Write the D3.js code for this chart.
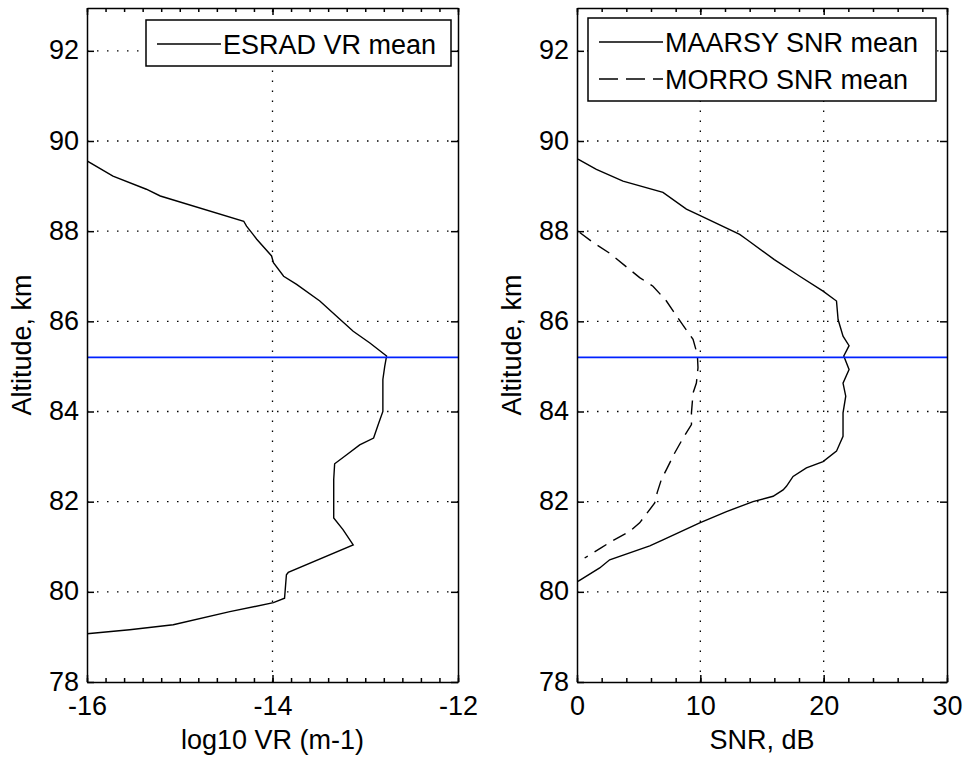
<!DOCTYPE html>
<html>
<head>
<meta charset="utf-8">
<script src="https://cdn.jsdelivr.net/npm/d3@7"></script>
<style>
  body { margin: 0; background: #fff; }
  svg { display: block; font-family: "Liberation Sans", Arial, sans-serif; }
  .axis path, .axis line { stroke: #000; stroke-width: 1.5; }
  .axis text { font-size: 27px; fill: #000; }
  .grid { stroke: #000; stroke-width: 1.3; stroke-dasharray: 1.5,8.5; }
  .label { font-size: 27px; fill: #000; }
  .curve { fill: none; stroke: #000; stroke-width: 1.4; }
</style>
</head>
<body>
<svg id="chart" width="965" height="762"></svg>
<script>
// ESRAD volume reflectivity (log10, m-1) vs altitude
var esradAlt = [89.56, 89.22, 88.93, 88.78, 88.22, 88.11, 87.93, 87.82, 87.45, 87.30,
                87.00, 86.82, 86.45, 86.04, 85.78, 85.52, 85.23, 85.00, 84.71, 84.00,
                83.71, 83.41, 83.26, 83.04, 82.84, 82.49, 82.04, 81.64, 81.38, 81.04,
                80.43, 80.38, 79.86, 79.76, 79.56, 79.27, 79.16, 79.07];
var esradVR  = [-16.00, -15.72, -15.36, -15.21, -14.31, -14.28, -14.21, -14.17, -14.01, -13.99,
                -13.88, -13.74, -13.49, -13.27, -13.13, -12.95, -12.77, -12.79, -12.81, -12.81,
                -12.86, -12.91, -13.06, -13.20, -13.33, -13.34, -13.34, -13.34, -13.24, -13.13,
                -13.83, -13.85, -13.87, -13.99, -14.46, -15.07, -15.54, -16.00];

// MAARSY SNR (dB) vs altitude
var maarsyAlt = [89.60, 89.37, 89.11, 88.86, 88.49, 88.35, 87.93, 87.82, 87.37, 87.00,
                 86.67, 86.45, 86.04, 85.67, 85.46, 85.23, 84.93, 84.63, 84.34, 83.97,
                 83.45, 83.12, 82.89, 82.75, 82.56, 82.34, 82.26, 82.12, 82.00, 81.78,
                 81.53, 81.15, 81.02, 80.71, 80.53, 80.23];
var maarsySNR = [0.08, 1.57, 3.73, 6.97, 8.87, 9.95, 13.19, 13.74, 16.00, 18.06,
                 19.95, 21.04, 21.17, 21.57, 22.06, 21.63, 22.06, 21.57, 21.79, 21.57,
                 21.57, 21.04, 19.95, 18.60, 17.52, 16.98, 16.71, 15.90, 14.27, 12.12,
                 9.95, 6.97, 5.90, 2.65, 1.84, 0.08];

// MORRO SNR (dB) vs altitude
var morroAlt = [87.97, 87.75, 87.51, 86.97, 86.78, 86.45, 86.23, 85.86, 85.60, 85.26,
                84.97, 84.63, 84.41, 83.97, 83.71, 83.41, 83.08, 82.71, 82.49, 82.20,
                81.97, 81.53, 81.34, 81.12, 80.98, 80.75];
var morroSNR = [0.22, 1.30, 2.65, 5.08, 6.16, 7.25, 7.79, 8.73, 9.41, 9.76,
                9.81, 9.68, 9.41, 9.28, 9.28, 8.60, 7.92, 7.25, 6.84, 6.50,
                6.30, 5.08, 4.27, 2.79, 1.98, 0.62];

var markAlt = 85.2;
var altTicks = [78, 80, 82, 84, 86, 88, 90, 92];
var vrTicks = [-16, -14, -12];
var snrTicks = [0, 10, 20, 30];

var svg = d3.select("#chart");
var top_ = 8, bottom_ = 682;

var y = d3.scaleLinear().domain([78, 92.95]).range([bottom_, top_]);

var panels = [
  { id: "vr", left: 87, right: 458, domain: [-16, -12], ticks: vrTicks, minor: 0.2,
    xLabel: "log10 VR (m-1)",
    series: [{ x: esradVR, y: esradAlt, dash: null, name: "ESRAD VR mean" }],
    legend: { x: 146, y: 20, w: 305, h: 46 } },
  { id: "snr", left: 577, right: 947, domain: [0, 30], ticks: snrTicks, minor: 2,
    xLabel: "SNR, dB",
    series: [{ x: maarsySNR, y: maarsyAlt, dash: null, name: "MAARSY SNR mean" },
             { x: morroSNR, y: morroAlt, dash: "14,8", name: "MORRO SNR mean" }],
    legend: { x: 588, y: 18, w: 348, h: 83 } }
];

panels.forEach(function(p) {
  var x = d3.scaleLinear().domain(p.domain).range([p.left, p.right]);
  var g = svg.append("g").attr("class", "panel panel-" + p.id);

  g.append("clipPath").attr("id", "clip-" + p.id)
    .append("rect")
    .attr("x", p.left).attr("y", top_)
    .attr("width", p.right - p.left).attr("height", bottom_ - top_);

  // grid
  g.selectAll(".gx")
    .data(p.ticks.filter(function(d) { return d != p.domain[0] && d != p.domain[1]; }))
    .enter().append("line")
    .attr("class", "grid")
    .attr("x1", function(d) { return x(d); }).attr("x2", function(d) { return x(d); })
    .attr("y1", bottom_).attr("y2", top_);
  g.selectAll(".gy")
    .data(altTicks.slice(1))
    .enter().append("line")
    .attr("class", "grid")
    .attr("x1", p.left).attr("x2", p.right)
    .attr("y1", function(d) { return y(d); }).attr("y2", function(d) { return y(d); });

  // curves
  var cg = g.append("g").attr("clip-path", "url(#clip-" + p.id + ")");
  p.series.forEach(function(s) {
    var pts = s.x.map(function(v, i) { return [v, s.y[i]]; });
    cg.append("path")
      .datum(pts)
      .attr("class", "curve")
      .attr("stroke-dasharray", s.dash)
      .attr("d", d3.line()
        .x(function(d) { return x(d[0]); })
        .y(function(d) { return y(d[1]); }));
  });
  cg.append("line")
    .attr("x1", p.left).attr("x2", p.right)
    .attr("y1", y(markAlt)).attr("y2", y(markAlt))
    .attr("stroke", "#0022ff").attr("stroke-width", 1.6);

  // axes
  var minorTicks = d3.range(p.domain[0], p.domain[1] + p.minor / 2, p.minor);
  g.append("g").attr("class", "axis")
    .attr("transform", "translate(0," + bottom_ + ")")
    .call(d3.axisBottom(x).tickValues(minorTicks).tickSize(-4).tickFormat(""))
    .select(".domain").remove();
  g.append("g").attr("class", "axis")
    .attr("transform", "translate(0," + top_ + ")")
    .call(d3.axisTop(x).tickValues(minorTicks).tickSize(-4).tickFormat(""))
    .select(".domain").remove();
  g.append("g").attr("class", "axis")
    .attr("transform", "translate(0," + bottom_ + ")")
    .call(d3.axisBottom(x).tickValues(p.ticks).tickSize(-7).tickPadding(14)
      .tickSizeOuter(0).tickFormat(d3.format("d")))
    .selectAll("text").text(function(d) { return String(d).replace("\u2212", "-"); });
  g.append("g").attr("class", "axis")
    .attr("transform", "translate(0," + top_ + ")")
    .call(d3.axisTop(x).tickValues(p.ticks).tickSize(-7).tickSizeOuter(0).tickFormat(""));
  g.append("g").attr("class", "axis")
    .attr("transform", "translate(" + p.left + ",0)")
    .call(d3.axisLeft(y).tickValues(altTicks).tickSize(-7).tickPadding(8).tickSizeOuter(0))
    .selectAll("text").attr("dy", "0.30em");
  g.append("g").attr("class", "axis")
    .attr("transform", "translate(" + p.right + ",0)")
    .call(d3.axisRight(y).tickValues(altTicks).tickSize(-7).tickSizeOuter(0).tickFormat(""));

  // labels
  g.append("text").attr("class", "label")
    .attr("x", (p.left + p.right) / 2).attr("y", 749)
    .attr("text-anchor", "middle")
    .text(p.xLabel);
  g.append("text").attr("class", "label")
    .attr("transform", "translate(" + (p.left - 56) + "," + ((top_ + bottom_) / 2) + ") rotate(-90)")
    .attr("text-anchor", "middle")
    .text("Altitude, km");

  // legend
  var L = p.legend;
  var lg = g.append("g").attr("class", "legend");
  lg.append("rect")
    .attr("x", L.x).attr("y", L.y).attr("width", L.w).attr("height", L.h)
    .attr("fill", "#fff").attr("stroke", "#000").attr("stroke-width", 1.5);
  var rowH = p.series.length > 1 ? 37 : 0;
  p.series.forEach(function(s, i) {
    var cy = L.y + 24 + i * rowH;
    lg.append("line")
      .attr("x1", L.x + 11).attr("x2", L.x + 75)
      .attr("y1", cy).attr("y2", cy)
      .attr("stroke", "#000").attr("stroke-width", 1.4)
      .attr("stroke-dasharray", s.dash ? "19,8" : null);
    lg.append("text").attr("class", "label")
      .attr("x", L.x + 77).attr("y", cy).attr("dy", "0.36em")
      .text(s.name);
  });
});
</script>
</body>
</html>
